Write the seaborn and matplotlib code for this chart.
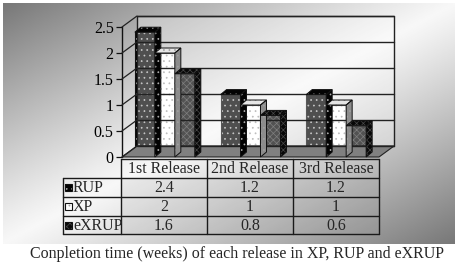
import numpy as np
import pandas as pd
import matplotlib
matplotlib.use('Agg')
import matplotlib.pyplot as plt
import seaborn as sns
from matplotlib.patches import Rectangle, Polygon
from matplotlib.lines import Line2D
from matplotlib.transforms import IdentityTransform

# ---------------- data ----------------
releases = ['1st Release', '2nd Release', '3rd Release']
methods = ['RUP', 'XP', 'eXRUP']
rup = [2.4, 1.2, 1.2]
xp = [2, 1, 1]
exrup = [1.6, 0.8, 0.6]
yticks = [0, 0.5, 1, 1.5, 2, 2.5]
ytick_labels = ['0', '0.5', '1', '1.5', '2', '2.5']
caption = 'Conpletion time (weeks) of each release in XP, RUP and eXRUP'

values = {'RUP': rup, 'XP': xp, 'eXRUP': exrup}
df = pd.DataFrame([(r, m, values[m][i]) for m in methods for i, r in enumerate(releases)],
                  columns=['release', 'method', 'value'])

# styles per series: face, hatch colour, hatch, top face, side face
styles = {
    'RUP':   dict(face='#030303', hcol='#b0b0b0', hatch='...', top='#030303', side='#030303'),
    'XP':    dict(face='#ffffff', hcol='#a0a0a0', hatch='...', top='#e6e6e6', side='#8c8c8c'),
    'eXRUP': dict(face='#080808', hcol='#484848', hatch='xxxxx', top='#080808', side='#080808'),
}

sns.set_theme(style='white')
plt.rcParams['font.family'] = ['Liberation Serif', 'DejaVu Serif']
plt.rcParams['hatch.linewidth'] = 0.5

W, H = 460, 266
fig = plt.figure(figsize=(4.6, 2.66), dpi=100)
fig.patch.set_facecolor('white')

# ---------------- gradient background ----------------
bg = fig.add_axes([3 / W, 1 - 244 / H, 452 / W, 241 / H])
xx, yy = np.meshgrid(np.linspace(0, 1, 400), np.linspace(0, 1, 240))
b = 0.97 - 0.50 * np.abs(xx + yy - 1) ** 1.1
bg.imshow(b, cmap='gray', vmin=0, vmax=1, aspect='auto', interpolation='bilinear')
bg.axis('off')

# ---------------- main axes (front plane) ----------------
ax = fig.add_axes([122 / W, 1 - 157 / H, 257 / W, 130 / H])
ax.patch.set_alpha(0)
ax.set_xlim(-0.5, 2.5)
ax.set_ylim(0, 2.5)

DX, DY = 15, 11   # depth offset in pixels


def disp(x, y):
    return ax.transData.transform((x, y))


def poly_disp(pts, **kw):
    p = Polygon(pts, closed=True, transform=IdentityTransform(), clip_on=False, **kw)
    fig.add_artist(p)
    return p


x0, x1 = ax.get_xlim()
# back wall
bl, br = disp(x0, 0), disp(x1, 0)
tl, tr = disp(x0, 2.5), disp(x1, 2.5)
poly_disp([bl + (DX, DY), br + (DX, DY), tr + (DX, DY), tl + (DX, DY)],
          facecolor=(1, 1, 1, 0.3), edgecolor='#222222', linewidth=1.0, zorder=1)
# floor
poly_disp([bl, br, br + (DX, DY), bl + (DX, DY)],
          facecolor='#808080', edgecolor='#222222', linewidth=0.8, zorder=1)
# gridlines on back wall and depth ticks on left wall
for t in yticks:
    a = disp(x0, t)
    c = disp(x1, t)
    fig.add_artist(Line2D([a[0] + DX, c[0] + DX], [a[1] + DY, c[1] + DY],
                          transform=IdentityTransform(), color='#222222', lw=1.0, zorder=1.5))
    fig.add_artist(Line2D([a[0], a[0] + DX], [a[1], a[1] + DY],
                          transform=IdentityTransform(), color='#222222', lw=0.9, zorder=1.5))

# ---------------- bars ----------------
sns.barplot(data=df, x='release', y='value', hue='method', hue_order=methods,
            order=releases, width=0.7, ax=ax, legend=False,
            palette=[styles[m]['face'] for m in methods], saturation=1)

BD = np.array((6, 5))
for k, (m, cont) in enumerate(zip(methods, ax.containers)):
    st = styles[m]
    for p in cont.patches:
        p.set_facecolor(st['face'])
        p.set_edgecolor(st['hcol'])
        p.set_hatch(st['hatch'])
        p.set_linewidth(0)
        p.set_zorder(3 + k)
        xa, w, h = p.get_x(), p.get_width(), p.get_height()
        ax.add_patch(Rectangle((xa, 0), w, h, fill=False, edgecolor='#111111',
                               linewidth=0.8, zorder=3.1 + k))
        pbr = disp(xa + w, 0)
        ptl, ptr = disp(xa, h), disp(xa + w, h)
        # top face
        poly_disp([ptl, ptr, ptr + BD, ptl + BD], facecolor=st['top'],
                  edgecolor=st['hcol'], hatch=st['hatch'], linewidth=0, zorder=3 + k)
        poly_disp([ptl, ptr, ptr + BD, ptl + BD], fill=False,
                  edgecolor='#111111', linewidth=0.7, zorder=3.1 + k)
        # side face
        poly_disp([pbr, ptr, ptr + BD, pbr + BD], facecolor=st['side'],
                  edgecolor=st['hcol'], hatch=st['hatch'], linewidth=0, zorder=3 + k)
        poly_disp([pbr, ptr, ptr + BD, pbr + BD], fill=False,
                  edgecolor='#111111', linewidth=0.7, zorder=3.1 + k)

ax.set_xticks([])
ax.set_xlabel('')
ax.set_ylabel('')
ax.set_yticks(yticks)
ax.set_yticklabels(ytick_labels, fontfamily=['Liberation Serif', 'DejaVu Serif'])
ax.tick_params(axis='y', direction='out', length=4, width=0.9, color='#111111',
               labelsize=11.5, pad=2, left=True, labelcolor='black')
for s in ['top', 'right', 'bottom']:
    ax.spines[s].set_visible(False)
ax.spines['left'].set_color('#111111')
ax.spines['left'].set_linewidth(1.0)

# ---------------- data table ----------------
tab = fig.add_axes([0, 0, 1, 1])
tab.set_xlim(0, W)
tab.set_ylim(H, 0)
tab.axis('off')
tab.patch.set_alpha(0)

col_x = [121, 207, 293, 379]
row_y = [159, 178, 197, 216, 234]
lab_x = 63
lc = '#1a1a1a'
# faint grey shading of the value cells
tab.add_patch(Rectangle((col_x[0], row_y[1]), col_x[-1] - col_x[0], row_y[-1] - row_y[1],
                        facecolor=(0.6, 0.6, 0.6, 0.15), edgecolor='none'))
for cx in col_x:
    tab.plot([cx, cx], [row_y[0], row_y[-1]], color=lc, lw=1.0)
tab.plot([lab_x, lab_x], [row_y[1], row_y[-1]], color=lc, lw=1.0)
tab.plot([col_x[0], col_x[-1]], [row_y[0], row_y[0]], color=lc, lw=1.0)
for ry in row_y[1:]:
    tab.plot([lab_x, col_x[-1]], [ry, ry], color=lc, lw=1.0)

for j, r in enumerate(releases):
    tab.text((col_x[j] + col_x[j + 1]) / 2, (row_y[0] + row_y[1]) / 2 + 0.5, r,
             ha='center', va='center', fontsize=11.5)
for i, m in enumerate(methods):
    yc = (row_y[i + 1] + row_y[i + 2]) / 2
    st = styles[m]
    tab.add_patch(Rectangle((65, yc - 3.5), 7, 7, facecolor=st['face'], edgecolor=st['hcol'],
                            hatch=st['hatch'], linewidth=0))
    tab.add_patch(Rectangle((65, yc - 3.5), 7, 7, fill=False, edgecolor='#111111', linewidth=0.8))
    tab.text(73, yc + 0.5, m, ha='left', va='center', fontsize=11.5)
    for j in range(len(releases)):
        v = values[m][j]
        tab.text((col_x[j] + col_x[j + 1]) / 2, yc + 0.5, f'{v:g}',
                 ha='center', va='center', fontsize=11.5)

fig.text(237 / W, 1 - 254 / H, caption, ha='center', va='center', fontsize=11.5)

fig.savefig('out.png', dpi=100)
